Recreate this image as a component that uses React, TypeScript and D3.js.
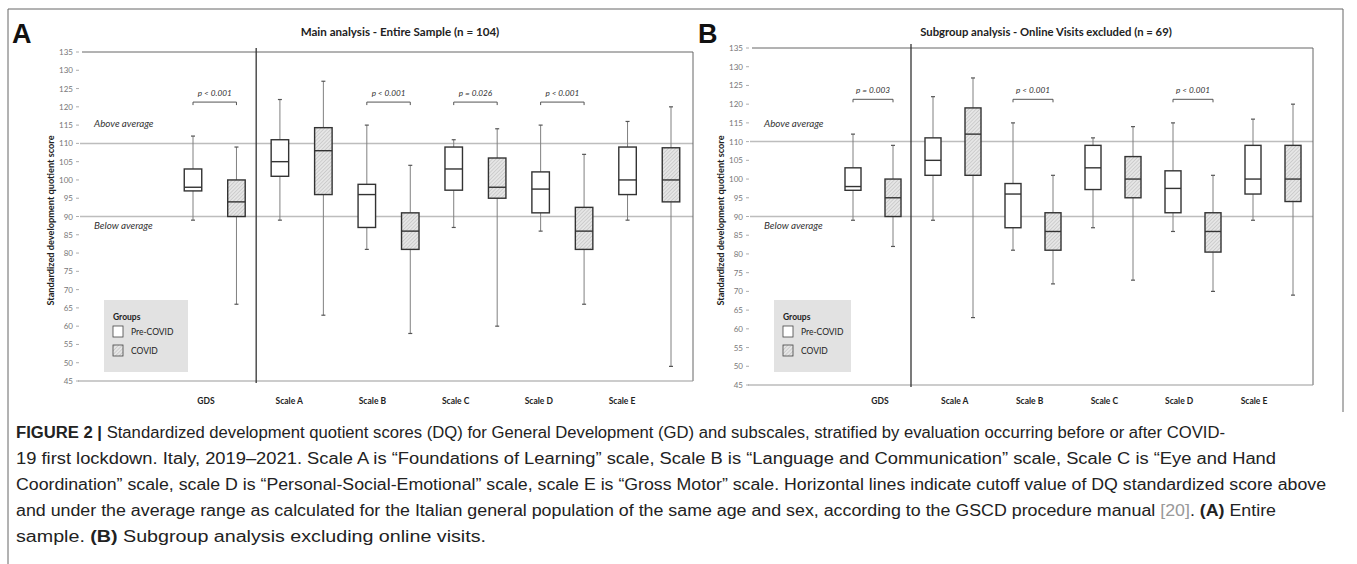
import React from 'react';
import * as d3 from 'd3';

const categories = ['GDS', 'Scale A', 'Scale B', 'Scale C', 'Scale D', 'Scale E'];
const groupNames = ['Pre-COVID', 'COVID'];

// each entry: [lower whisker, Q1, median, Q3, upper whisker]
const mainPre = [
  [89, 97, 98, 103, 112],
  [89, 101, 105, 111, 122],
  [81, 87, 96, 98.8, 115],
  [87, 97.2, 103, 109, 111],
  [86, 91, 97.5, 102.2, 115],
  [89, 96, 100, 109, 116],
];
const mainCovid = [
  [66, 90, 94, 100, 109],
  [63, 96, 108, 114.3, 127],
  [58, 81, 86, 91, 104],
  [60, 95, 98, 106, 114],
  [66, 81, 86, 92.5, 107],
  [49, 94, 100, 108.8, 120],
];
const subPre = [
  [89, 97, 98, 103, 112],
  [89, 101, 105, 111, 122],
  [81, 87, 96, 98.8, 115],
  [87, 97.2, 103, 109, 111],
  [86, 91, 97.5, 102.2, 115],
  [89, 96, 100, 109, 116],
];
const subCovid = [
  [82, 90, 95, 100, 109],
  [63, 101, 112, 119, 127],
  [72, 81, 86, 91, 101],
  [73, 95, 100, 106, 114],
  [70, 80.5, 86, 91, 101],
  [69, 94, 100, 109, 120],
];
const mainPValues = ['p < 0.001', '', 'p < 0.001', 'p = 0.026', 'p < 0.001', ''];
const subPValues = ['p = 0.003', '', 'p < 0.001', '', 'p < 0.001', ''];
const yTicks = [45, 50, 55, 60, 65, 70, 75, 80, 85, 90, 95, 100, 105, 110, 115, 120, 125, 130, 135];
const cutoffs = [110, 90];
const bracketLevel = 121.3;

const chartFont = 'Lato, "Open Sans", sans-serif';

interface PanelProps {
  letter: string;
  title: string;
  titleSize: number;
  pre: number[][];
  covid: number[][];
  pValues: string[];
  left: number;
  right: number;
  top: number;
  bottom: number;
  slotRange: [number, number];
  labelRange: [number, number];
  boxW: number;
  legendW: number;
  letterX: number;
  titleX: number;
}

const Panel: React.FC<PanelProps> = (p) => {
  const y = d3.scaleLinear().domain([45, 135]).range([p.bottom, p.top]);
  const slots: string[] = [];
  categories.forEach((c) => groupNames.forEach((g) => slots.push(c + '|' + g)));
  const x = d3.scalePoint<string>().domain(slots).range(p.slotRange);
  const xLabel = d3.scalePoint<string>().domain(categories).range(p.labelRange);
  const dividerX = ((x(slots[1]) as number) + (x(slots[2]) as number)) / 2 - 2;

  const box = (d: number[], cx: number, covid: boolean, key: string) => {
    const [lo, q1, med, q3, hi] = d;
    const w = p.boxW;
    return (
      <g key={key}>
        <line x1={cx} x2={cx} y1={y(hi)} y2={y(q3)} stroke="#808080" strokeWidth={1} />
        <line x1={cx} x2={cx} y1={y(q1)} y2={y(lo)} stroke="#808080" strokeWidth={1} />
        <line x1={cx - 2} x2={cx + 2} y1={y(hi)} y2={y(hi)} stroke="#555" strokeWidth={1.2} />
        <line x1={cx - 2} x2={cx + 2} y1={y(lo)} y2={y(lo)} stroke="#555" strokeWidth={1.2} />
        <rect x={cx - w / 2} y={y(q3)} width={w} height={y(q1) - y(q3)}
          fill={covid ? 'url(#hatch)' : '#fff'} stroke="#333" strokeWidth={1.4} />
        <line x1={cx - w / 2} x2={cx + w / 2} y1={y(med)} y2={y(med)} stroke="#333" strokeWidth={1.4} />
      </g>
    );
  };

  const lx = p.left + 22;
  const ly = 300;

  return (
    <g fontFamily={chartFont}>
      <text x={p.letterX} y={43} fontFamily='"Liberation Sans", Arial, sans-serif' fontWeight="bold" fontSize={27} fill="#111">{p.letter}</text>
      <text x={p.titleX} y={36} textAnchor="middle" fontWeight="bold" fontSize={p.titleSize} fill="#222">{p.title}</text>

      {/* cutoff lines */}
      {cutoffs.map((c) => (
        <line key={c} x1={p.left - 2} x2={p.right} y1={y(c)} y2={y(c)} stroke="#bdbdbd" strokeWidth={1.5} />
      ))}

      {/* frame */}
      <line x1={p.left} x2={p.right} y1={p.top} y2={p.top} stroke="#666" strokeWidth={1} />
      <line x1={p.right} x2={p.right} y1={p.top} y2={p.bottom} stroke="#666" strokeWidth={1} />
      <line x1={p.left - 4} x2={p.right} y1={p.bottom} y2={p.bottom} stroke="#999" strokeWidth={1} />
      <line x1={dividerX} x2={dividerX} y1={p.top - 4} y2={p.bottom + 2} stroke="#333" strokeWidth={1.3} />

      {/* y axis */}
      {yTicks.map((t) => (
        <g key={t}>
          <text x={p.left - 9} y={y(t) + 3} textAnchor="end" fontSize={8} fill="#777">{t}</text>
          <line x1={p.left - 6} x2={p.left - 3} y1={y(t)} y2={y(t)} stroke="#999" strokeWidth={0.8} />
        </g>
      ))}
      <text transform={`translate(${p.left - 28},${(p.top + p.bottom) / 2 + 4}) rotate(-90)`} textAnchor="middle"
        fontWeight="bold" fontSize={9.2} fill="#222">Standardized development quotient score</text>

      <text x={p.left + 12} y={127} fontStyle="italic" fontSize={9.8} fill="#333">Above average</text>
      <text x={p.left + 12} y={229} fontStyle="italic" fontSize={9.8} fill="#333">Below average</text>

      {/* boxes */}
      {categories.map((c, i) => (
        <g key={c}>
          {box(p.pre[i], x(c + '|' + groupNames[0]) as number, false, c + 'pre')}
          {box(p.covid[i], x(c + '|' + groupNames[1]) as number, true, c + 'cov')}
        </g>
      ))}

      {/* significance brackets */}
      {categories.map((c, i) => {
        if (!p.pValues[i]) return null;
        const x1 = x(c + '|' + groupNames[0]) as number;
        const x2 = x(c + '|' + groupNames[1]) as number;
        const by = y(bracketLevel);
        return (
          <g key={c + 'p'}>
            <path d={`M${x1},${by + 3}V${by}H${x2}V${by + 3}`} fill="none" stroke="#555" strokeWidth={1} />
            <text x={(x1 + x2) / 2} y={by - 6} textAnchor="middle" fontStyle="italic" fontSize={8.2} fill="#333">{p.pValues[i]}</text>
          </g>
        );
      })}

      {/* category labels */}
      {categories.map((c) => (
        <text key={c} x={xLabel(c)} y={404} textAnchor="middle" fontWeight="bold" fontSize={8.5} fill="#222">{c}</text>
      ))}

      {/* legend */}
      <rect x={lx} y={ly} width={p.legendW} height={72} fill="#e2e2e2" />
      <text x={lx + 9} y={ly + 20} fontWeight="bold" fontSize={8.5} fill="#222">Groups</text>
      <rect x={lx + 9} y={ly + 26} width={10} height={11} fill="#fff" stroke="#444" strokeWidth={0.8} />
      <text x={lx + 27} y={ly + 35} fontSize={8.5} fill="#222">{groupNames[0]}</text>
      <rect x={lx + 9} y={ly + 45} width={10} height={11} fill="url(#hatch)" stroke="#444" strokeWidth={0.8} />
      <text x={lx + 27} y={ly + 54} fontSize={8.5} fill="#222">{groupNames[1]}</text>
    </g>
  );
};

const captionFont = '"Liberation Sans", Arial, sans-serif';

export default function App() {
  return (
    <div style={{ position: 'absolute', left: 0, top: 0 }}>
      <svg width={1357} height={564} style={{ display: 'block', background: '#fff' }}>
        <defs>
          <pattern id="hatch" patternUnits="userSpaceOnUse" width={2.6} height={2.6} patternTransform="rotate(45)">
            <rect width={2.6} height={2.6} fill="#e6e6e6" />
            <line x1={0} y1={0} x2={0} y2={2.6} stroke="#a8a8a8" strokeWidth={0.8} />
          </pattern>
        </defs>

        {/* outer figure border */}
        <line x1={8} x2={1343} y1={9} y2={9} stroke="#666" strokeWidth={1} />
        <line x1={8} x2={8} y1={9} y2={564} stroke="#666" strokeWidth={1} />
        <line x1={1343} x2={1343} y1={9} y2={412} stroke="#666" strokeWidth={1} />

        <Panel letter="A" title="Main analysis - Entire Sample (n = 104)" titleSize={11.6} pre={mainPre} covid={mainCovid}
          pValues={mainPValues} left={82} right={693} top={52} bottom={381}
          slotRange={[193, 671]} labelRange={[206, 622]} boxW={17.5} legendW={84}
          letterX={12} titleX={400} />
        <Panel letter="B" title="Subgroup analysis - Online Visits excluded (n = 69)" titleSize={11.3} pre={subPre} covid={subCovid}
          pValues={subPValues} left={752} right={1313} top={48} bottom={385}
          slotRange={[853, 1293]} labelRange={[880, 1254]} boxW={16} legendW={77}
          letterX={698} titleX={1046} />

        <g fontFamily={captionFont} fontSize={16} fill="#222">
          <text x={16} y={438} textLength={1209} lengthAdjust="spacingAndGlyphs">
            <tspan fontWeight="bold">FIGURE 2 | </tspan>Standardized development quotient scores (DQ) for General Development (GD) and subscales, stratified by evaluation occurring before or after COVID-
          </text>
          <text x={16} y={464} textLength={1260} lengthAdjust="spacingAndGlyphs">
            19 first lockdown. Italy, 2019–2021. Scale A is “Foundations of Learning” scale, Scale B is “Language and Communication” scale, Scale C is “Eye and Hand
          </text>
          <text x={16} y={490} textLength={1310} lengthAdjust="spacingAndGlyphs">
            Coordination” scale, scale D is “Personal-Social-Emotional” scale, scale E is “Gross Motor” scale. Horizontal lines indicate cutoff value of DQ standardized score above
          </text>
          <text x={16} y={516} textLength={1260} lengthAdjust="spacingAndGlyphs">
            and under the average range as calculated for the Italian general population of the same age and sex, according to the GSCD procedure manual <tspan fill="#999">[20]</tspan>. <tspan fontWeight="bold">(A)</tspan> Entire
          </text>
          <text x={16} y={542} textLength={470} lengthAdjust="spacingAndGlyphs">
            sample. <tspan fontWeight="bold">(B)</tspan> Subgroup analysis excluding online visits.
          </text>
        </g>
      </svg>
    </div>
  );
}
